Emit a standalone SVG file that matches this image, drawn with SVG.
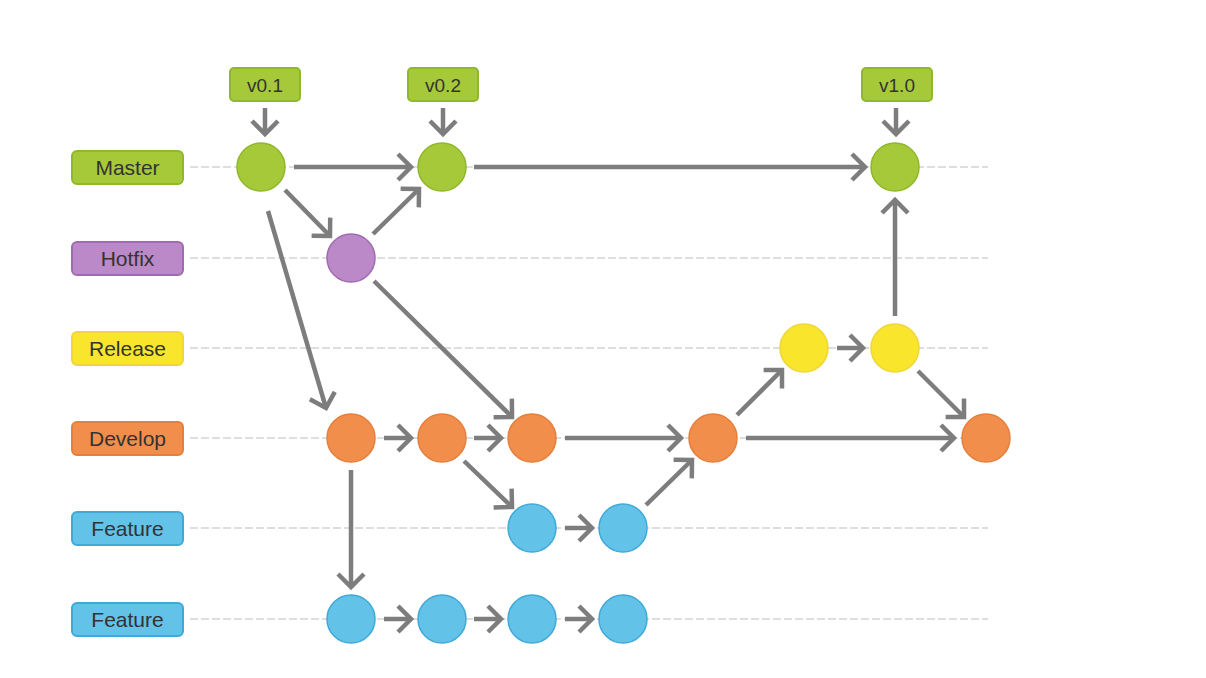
<svg xmlns="http://www.w3.org/2000/svg" width="1206" height="678" viewBox="0 0 1206 678">
<style>
.lane{stroke:#bdbdbd;stroke-width:1;stroke-dasharray:8 3}
.lbl rect{stroke-width:2}
.lbl text,.tag text{font-family:"Liberation Sans",Arial,sans-serif;font-size:21px;fill:#333;text-anchor:middle}
.tag text{font-size:19px}
.c{stroke-width:1.5}
.g rect,.g circle{fill:#a6c93a;stroke:#8fb82a}
.p rect,.p circle{fill:#bb88c8;stroke:#a06cb0}
.y rect,.y circle{fill:#f9e52c;stroke:#efd63a}
.o rect,.o circle{fill:#f28e4c;stroke:#e57f3c}
.b rect,.b circle{fill:#62c2e8;stroke:#3fa9d8}
#connectors line{stroke:#7d7d7d;stroke-width:4.5;fill:none;marker-end:url(#ah)}
</style>
<defs>
<marker id="ah" markerUnits="userSpaceOnUse" markerWidth="22" markerHeight="32" viewBox="0 0 22 32" refX="16" refY="16" orient="auto">
<path d="M3,3 L16,16 L3,29" fill="none" stroke="#7d7d7d" stroke-width="4.5"/>
</marker>
</defs>
<rect width="1206" height="678" fill="#fff"/>
<g id="lanes">
<line class="lane" x1="190" y1="167" x2="988" y2="167"/>
<line class="lane" x1="190" y1="258" x2="988" y2="258"/>
<line class="lane" x1="190" y1="348" x2="988" y2="348"/>
<line class="lane" x1="190" y1="438" x2="988" y2="438"/>
<line class="lane" x1="190" y1="528" x2="988" y2="528"/>
<line class="lane" x1="190" y1="619" x2="988" y2="619"/>
</g>
<g id="label-master" class="lbl g"><rect x="72" y="151" width="111" height="33" rx="5"/><text x="127.5" y="175">Master</text></g>
<g id="label-hotfix" class="lbl p"><rect x="72" y="242" width="111" height="33" rx="5"/><text x="127.5" y="266">Hotfix</text></g>
<g id="label-release" class="lbl y"><rect x="72" y="332" width="111" height="33" rx="5"/><text x="127.5" y="356">Release</text></g>
<g id="label-develop" class="lbl o"><rect x="72" y="422" width="111" height="33" rx="5"/><text x="127.5" y="446">Develop</text></g>
<g id="label-feature1" class="lbl b"><rect x="72" y="512" width="111" height="33" rx="5"/><text x="127.5" y="536">Feature</text></g>
<g id="label-feature2" class="lbl b"><rect x="72" y="603" width="111" height="33" rx="5"/><text x="127.5" y="627">Feature</text></g>
<g id="tag-v01" class="tag g"><rect x="230" y="68" width="70" height="33" rx="4" stroke-width="2"/><text x="265" y="91.5">v0.1</text></g>
<g id="tag-v02" class="tag g"><rect x="408" y="68" width="70" height="33" rx="4" stroke-width="2"/><text x="443" y="91.5">v0.2</text></g>
<g id="tag-v10" class="tag g"><rect x="862" y="68" width="70" height="33" rx="4" stroke-width="2"/><text x="897" y="91.5">v1.0</text></g>
<g id="connectors">
<line x1="265" y1="108" x2="265" y2="134"/>
<line x1="443" y1="108" x2="443" y2="134"/>
<line x1="896" y1="108" x2="896" y2="134"/>
<line x1="294" y1="167" x2="411" y2="167"/>
<line x1="285" y1="190" x2="330" y2="236"/>
<line x1="373" y1="234" x2="419" y2="189"/>
<line x1="268" y1="211" x2="326" y2="408"/>
<line x1="474" y1="167" x2="865" y2="167"/>
<line x1="374" y1="281" x2="512" y2="417"/>
<line x1="384" y1="438" x2="411" y2="438"/>
<line x1="474" y1="438" x2="501" y2="438"/>
<line x1="565" y1="438" x2="681" y2="438"/>
<line x1="464" y1="461" x2="512" y2="507"/>
<line x1="565" y1="528" x2="592" y2="528"/>
<line x1="646" y1="505" x2="692" y2="460"/>
<line x1="737" y1="415" x2="782" y2="370"/>
<line x1="837" y1="348" x2="863" y2="348"/>
<line x1="895" y1="316" x2="895" y2="200"/>
<line x1="918" y1="371" x2="964" y2="417"/>
<line x1="746" y1="438" x2="954" y2="438"/>
<line x1="351" y1="470" x2="351" y2="587"/>
<line x1="384" y1="619" x2="411" y2="619"/>
<line x1="474" y1="619" x2="501" y2="619"/>
<line x1="565" y1="619" x2="592" y2="619"/>
</g>
<g id="m1" class="c g"><circle cx="261" cy="167" r="24"/></g>
<g id="m2" class="c g"><circle cx="442" cy="167" r="24"/></g>
<g id="m3" class="c g"><circle cx="895" cy="167" r="24"/></g>
<g id="h1" class="c p"><circle cx="351" cy="258" r="24"/></g>
<g id="r1" class="c y"><circle cx="804" cy="348" r="24"/></g>
<g id="r2" class="c y"><circle cx="895" cy="348" r="24"/></g>
<g id="d1" class="c o"><circle cx="351" cy="438" r="24"/></g>
<g id="d2" class="c o"><circle cx="442" cy="438" r="24"/></g>
<g id="d3" class="c o"><circle cx="532" cy="438" r="24"/></g>
<g id="d4" class="c o"><circle cx="713" cy="438" r="24"/></g>
<g id="d5" class="c o"><circle cx="986" cy="438" r="24"/></g>
<g id="f1a" class="c b"><circle cx="532" cy="528" r="24"/></g>
<g id="f1b" class="c b"><circle cx="623" cy="528" r="24"/></g>
<g id="f2a" class="c b"><circle cx="351" cy="619" r="24"/></g>
<g id="f2b" class="c b"><circle cx="442" cy="619" r="24"/></g>
<g id="f2c" class="c b"><circle cx="532" cy="619" r="24"/></g>
<g id="f2d" class="c b"><circle cx="623" cy="619" r="24"/></g>
</svg>
